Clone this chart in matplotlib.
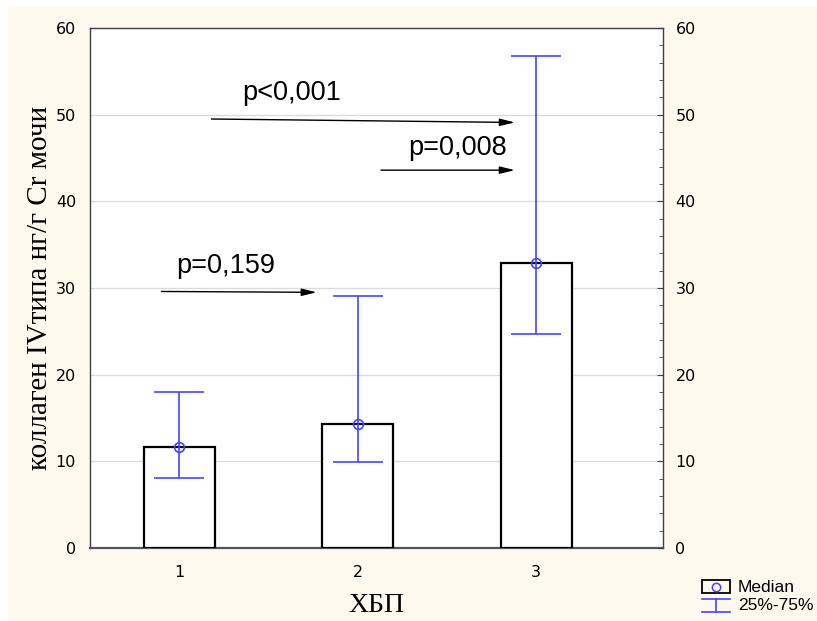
import matplotlib
matplotlib.use("Agg")
import matplotlib.pyplot as plt
from matplotlib.patches import Rectangle
from matplotlib.lines import Line2D
from matplotlib.ticker import MultipleLocator

# Data
groups = [1, 2, 3]
group_labels = ["1", "2", "3"]
medians = [11.6, 14.3, 32.9]
q25 = [8.1, 9.9, 24.7]
q75 = [18.0, 29.1, 56.8]

# Significance annotations: (label, text x, text y, arrow start, arrow end)
p_labels = ["p<0,001", "p=0,008", "p=0,159"]
p_text_xy = [(1.63, 52.5), (2.56, 46.1), (1.26, 32.5)]
p_arrow_from = [(1.18, 49.5), (2.13, 43.6), (0.90, 29.6)]
p_arrow_to = [(2.88, 49.1), (2.88, 43.6), (1.77, 29.5)]

cream = "#FEF9EE"
blue = "#4545FF"

fig = plt.figure(figsize=(8.17, 6.21), dpi=100)
fig.patch.set_facecolor("white")
fig.add_artist(Rectangle((8 / 817, 0), 1, 1 - 7 / 621, transform=fig.transFigure,
                         facecolor=cream, edgecolor="none", zorder=-10))

ax = fig.add_axes([90 / 817, 1 - 548 / 621, 573 / 817, 520 / 621])
ax.set_facecolor("white")
ax.set_xlim(0.5, 3.71)
ax.set_ylim(0, 60)

ax.bar(groups, medians, width=0.4, color="white", edgecolor="black", linewidth=1.6, zorder=3)
lower = [m - lo for m, lo in zip(medians, q25)]
upper = [hi - m for m, hi in zip(medians, q75)]
ax.errorbar(groups, medians, yerr=[lower, upper], fmt="o", mfc="none", mec=blue,
            ms=7, mew=1.2, ecolor=blue, elinewidth=1.2, capsize=18, capthick=1.2, zorder=4)

ax.yaxis.set_major_locator(MultipleLocator(10))
ax.grid(axis="y", color="#DCDCDC", linewidth=1.0, zorder=0)
ax.set_axisbelow(True)
ax.set_xticks(groups)
ax.set_xticklabels(group_labels)
ax.tick_params(axis="x", direction="in", length=3, color="#555555", pad=12, labelsize=11.5)
ax.tick_params(axis="y", length=0, pad=10, labelsize=11.5)
for s in ax.spines.values():
    s.set_color("#404040")
    s.set_linewidth(1.0)
ax.spines["bottom"].set_linewidth(1.6)
ax.spines["bottom"].set_color("#555555")

ax2 = ax.twinx()
ax2.set_ylim(0, 60)
ax2.yaxis.set_major_locator(MultipleLocator(10))
ax2.yaxis.set_minor_locator(MultipleLocator(2))
ax2.tick_params(axis="y", which="major", direction="in", length=4, pad=9, labelsize=11.5, color="#404040")
ax2.tick_params(axis="y", which="minor", direction="in", length=3, color="#404040")
for s in ax2.spines.values():
    s.set_visible(False)

ax.set_ylabel("коллаген IVтипа нг/г Cr мочи", family="Liberation Serif", fontsize=21, va="center")
ax.yaxis.set_label_coords(-0.087, 0.5)
ax.set_xlabel("ХБП", family="Liberation Serif", fontsize=20, va="center")
ax.xaxis.set_label_coords(0.5, -0.11)

for lab, (tx, ty), a0, a1 in zip(p_labels, p_text_xy, p_arrow_from, p_arrow_to):
    ax.text(tx, ty, lab, ha="center", va="center", fontsize=19.5, family="Liberation Sans", zorder=6)
    ax.annotate("", xy=a1, xytext=a0,
                arrowprops=dict(arrowstyle="-|>,head_length=0.9,head_width=0.22",
                                color="black", lw=1.0, shrinkA=0, shrinkB=0), zorder=6)

# Legend drawn in figure pixel coordinates
W, H = 817, 621
def fx(x):
    return x / W
def fy(y):
    return 1 - y / H
fig.add_artist(Rectangle((fx(702), fy(593)), 28 / W, 13 / H, transform=fig.transFigure,
                         facecolor="none", edgecolor="black", linewidth=1.3))
fig.add_artist(Line2D([fx(716)], [fy(586.5)], transform=fig.transFigure, marker="o",
                      mfc="none", mec=blue, ms=6, mew=1.1, linestyle="none"))
fig.add_artist(Line2D([fx(702), fx(730)], [fy(599), fy(599)], transform=fig.transFigure,
                      color=blue, lw=1.2))
fig.add_artist(Line2D([fx(716), fx(716)], [fy(599), fy(612)], transform=fig.transFigure,
                      color=blue, lw=1.2))
fig.add_artist(Line2D([fx(702), fx(730)], [fy(612), fy(612)], transform=fig.transFigure,
                      color=blue, lw=1.2))
fig.text(fx(738), fy(587), "Median", fontsize=12.5, family="Liberation Sans", va="center")
fig.text(fx(738), fy(606), "25%-75%", fontsize=12.5, family="Liberation Sans", va="center")

fig.savefig("out.png", dpi=100, facecolor=fig.get_facecolor())
